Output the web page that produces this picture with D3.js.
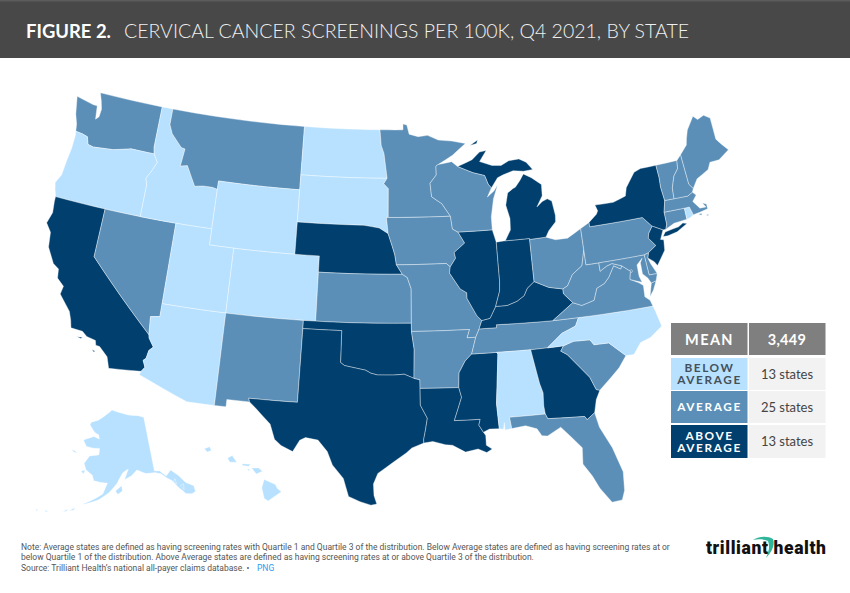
<!DOCTYPE html>
<html><head><meta charset="utf-8">
<script src="https://cdn.jsdelivr.net/npm/d3@7"></script>
<style>html,body{margin:0;padding:0;background:#fff}svg{display:block}</style></head>
<body><svg id="c" width="850" height="593"></svg>
<script>
const titleBold = "FIGURE 2.";
const titleRest = "CERVICAL CANCER SCREENINGS PER 100K, Q4 2021, BY STATE";
const groups = ["BELOW AVERAGE", "AVERAGE", "ABOVE AVERAGE"];
const groupColors = ["#b7e1ff", "#5b8fb8", "#003f6e"];
const groupCounts = ["13 states", "25 states", "13 states"];
const meanValue = "3,449";
const belowStates = ["OR","ID","WY","ND","SD","UT","CO","AZ","AL","NC","AK","HI","RI"];
const averageStates = ["WA","MT","NV","NM","KS","MN","IA","MO","AR","WI","OH","PA","WV","VA","TN","SC","FL","ME","VT","NH","MA","CT","MD","DE","DC"];
const aboveStates = ["CA","NE","IL","IN","KY","MI","NY","NJ","OK","TX","LA","MS","GA"];
const notes = [
 "Note: Average states are defined as having screening rates with Quartile 1 and Quartile 3 of the distribution. Below Average states are defined as having screening rates at or",
 "below Quartile 1 of the distribution. Above Average states are defined as having screening rates at or above Quartile 3 of the distribution.",
 "Source: Trilliant Health’s national all-payer claims database.  •"
];
// State outlines, longitude,latitude
const outlines = {
WA:["-124.7,48.4 -123.1,48.15 -122.75,48.15 -122.6,47.3 -122.35,47.5 -122.3,48 -122.5,48.5 -122.76,49 -117.03,49 -117.04,46.42 -116.92,45.99 -118.98,46 -119.3,45.93 -120.5,45.7 -121.2,45.65 -122.2,45.57 -122.7,45.65 -122.9,46.1 -123.4,46.2 -124,46.25 -124.1,46.7 -124.4,47.3"],
OR:["-124,46.25 -123.4,46.2 -122.9,46.1 -122.7,45.65 -122.2,45.57 -121.2,45.65 -120.5,45.7 -119.3,45.93 -118.98,46 -116.92,45.99 -116.5,45.5 -116.85,44.9 -117.2,44.4 -117.03,44 -117.03,42 -124.21,42 -124.4,42.4 -124.55,42.84 -124.2,43.4 -124.1,44.3 -123.96,45.2 -123.95,46"],
CA:["-124.21,42 -120,42 -120,39 -114.63,35 -114.57,34.8 -114.14,34.3 -114.43,34.05 -114.53,33.55 -114.72,33.4 -114.5,33 -114.72,32.72 -117.12,32.53 -117.25,32.85 -117.4,33.2 -118.1,33.72 -118.4,33.75 -118.5,34.03 -119.2,34.15 -119.6,34.4 -120.5,34.45 -120.65,34.9 -120.9,35.4 -121.9,36.3 -121.8,36.8 -122.4,37.2 -122.5,37.75 -123,38 -123.7,38.9 -123.85,39.8 -124.35,40.3 -124.1,41 -124.2,41.7",
    "-119.9,34 -119.5,34.05 -119.6,33.95","-118.6,33.45 -118.35,33.38 -118.45,33.32"],
NV:["-120,42 -114.04,42 -114.04,36.2 -114.75,36.1 -114.63,35 -120,39"],
ID:["-117.03,49 -116.05,49 -116.05,48 -115.7,47.45 -114.7,46.7 -114.35,46.65 -114.5,45.55 -113.9,45.65 -113.45,45.05 -113,44.45 -112.3,44.55 -111.5,44.55 -111.05,44.48 -111.05,42 -117.03,42 -117.03,44 -117.2,44.4 -116.85,44.9 -116.5,45.5 -116.92,45.99 -117.04,46.42"],
MT:["-116.05,49 -104.05,49 -104.05,45 -111.05,45 -111.05,44.48 -111.5,44.55 -112.3,44.55 -113,44.45 -113.45,45.05 -113.9,45.65 -114.5,45.55 -114.35,46.65 -114.7,46.7 -115.7,47.45 -116.05,48"],
WY:["-111.05,45 -104.05,45 -104.05,41 -111.05,41"],
UT:["-114.04,42 -111.05,42 -111.05,41 -109.05,41 -109.05,37 -114.04,37"],
CO:["-109.05,41 -102.05,41 -102.05,37 -109.05,37"],
AZ:["-114.04,37 -109.05,37 -109.05,31.33 -111.07,31.33 -114.81,32.5 -114.72,32.72 -114.5,33 -114.72,33.4 -114.53,33.55 -114.43,34.05 -114.14,34.3 -114.57,34.8 -114.63,35 -114.75,36.1 -114.04,36.2"],
NM:["-109.05,37 -103,37 -103.04,32 -106.62,32 -106.53,31.78 -108.2,31.78 -108.2,31.33 -109.05,31.33"],
ND:["-104.05,49 -97.23,49 -97.1,48 -96.85,47.5 -96.56,45.94 -104.05,45.94"],
SD:["-104.05,45.94 -96.56,45.94 -96.85,45.6 -96.45,45.3 -96.45,43.5 -96.6,43.5 -96.45,42.5 -97.2,42.85 -98.5,43 -104.05,43"],
NE:["-104.05,43 -98.5,43 -97.2,42.85 -96.45,42.5 -96.1,41.7 -95.9,41.2 -95.77,40.58 -95.3,40 -102.05,40 -102.05,41 -104.05,41"],
KS:["-102.05,40 -95.3,40 -94.9,39.8 -94.6,39.1 -94.62,37 -102.05,37"],
OK:["-103,37 -94.62,37 -94.62,36.5 -94.43,35.4 -94.48,33.64 -95.2,33.9 -96,33.85 -96.6,33.85 -97.2,33.85 -97.7,33.95 -98.1,34.13 -99.2,34.3 -99.7,34.38 -100,34.56 -100,36.5 -103,36.5"],
TX:["-103,36.5 -100,36.5 -100,34.56 -99.7,34.38 -99.2,34.3 -98.1,34.13 -97.7,33.95 -97.2,33.85 -96.6,33.85 -96,33.85 -95.2,33.9 -94.48,33.64 -94.04,33.55 -94.04,33.02 -94.04,32 -93.55,31.2 -93.7,30.5 -93.85,29.9 -93.84,29.69 -94.7,29.4 -95.1,29.1 -96,28.55 -97.1,27.85 -97.4,27.2 -97.35,26.5 -97.15,25.97 -97.55,25.9 -98.3,26.1 -99.1,26.4 -99.5,27.5 -100.3,28.3 -100.7,29.1 -101.4,29.77 -102.3,29.88 -102.7,29.7 -103.15,28.98 -104,29.3 -104.5,29.65 -104.9,30.55 -106,31.4 -106.53,31.78 -106.62,32 -103.04,32"],
MN:["-97.23,49 -95.15,49 -95.15,49.38 -94.8,49.3 -94.6,48.72 -93.8,48.55 -92.95,48.62 -92,48.3 -90.8,48.2 -89.6,48 -90.8,47.3 -92.1,46.75 -92.29,46.66 -92.29,46.1 -92.85,45.6 -92.75,44.75 -91.9,44.3 -91.22,43.5 -96.45,43.5 -96.45,45.3 -96.85,45.6 -96.56,45.94 -96.85,47.5 -97.1,48"],
IA:["-96.45,43.5 -91.22,43.5 -91.1,42.7 -90.65,42.5 -90.15,41.8 -91.05,41.25 -90.95,40.9 -91.42,40.38 -91.73,40.6 -95.77,40.58 -95.9,41.2 -96.1,41.7 -96.45,42.5 -96.6,43.5"],
MO:["-95.77,40.58 -91.73,40.6 -91.42,40.38 -91.5,40 -90.7,39 -90.2,38.75 -90.2,38.4 -89.5,37.3 -89.15,37 -89.4,36.5 -89.7,36 -90.37,36 -90.15,36.5 -94.62,36.5 -94.62,37 -94.6,39.1 -94.9,39.8 -95.3,40"],
AR:["-94.62,36.5 -90.15,36.5 -90.37,36 -89.7,36 -90.08,35 -90.6,34.6 -91.1,33.9 -91.17,33 -94.04,33.02 -94.04,33.55 -94.48,33.64 -94.43,35.4"],
LA:["-94.04,33.02 -91.17,33 -91,32.4 -91.6,31 -89.73,31 -89.85,30.65 -89.55,30.2 -89.4,30 -89.4,29.4 -89,29.15 -89.4,28.95 -90,29.2 -90.9,29.05 -91.8,29.5 -92.3,29.55 -93.2,29.77 -93.84,29.69 -93.85,29.9 -93.7,30.5 -93.55,31.2 -94.04,32"],
MS:["-91.17,33 -91.1,33.9 -90.6,34.6 -90.08,35 -88.2,35 -88.1,34.9 -88.47,31.9 -88.4,30.35 -89.1,30.37 -89.55,30.2 -89.85,30.65 -89.73,31 -91.6,31 -91,32.4"],
TN:["-90.08,35 -89.7,36 -89.4,36.5 -88.05,36.5 -88.05,36.68 -83.68,36.6 -81.68,36.59 -82,36.1 -83.1,35.77 -84.32,34.99 -85.6,34.98 -88.2,35"],
KY:["-89.4,36.5 -89.15,37 -88.5,37.1 -88,37.8 -87.1,37.8 -86.3,38 -85.7,38.3 -85.4,38.73 -84.8,39.1 -84.3,38.9 -83.7,38.65 -82.6,38.45 -82.6,38.15 -81.97,37.54 -83.68,36.6 -88.05,36.68 -88.05,36.5"],
IL:["-90.65,42.5 -87.8,42.5 -87.55,41.72 -87.53,39.35 -87.6,38.7 -88,37.8 -88.5,37.1 -89.15,37 -89.5,37.3 -90.2,38.4 -90.2,38.75 -90.7,39 -91.5,40 -91.42,40.38 -90.95,40.9 -91.05,41.25 -90.15,41.8"],
IN:["-87.55,41.72 -87.2,41.75 -86.8,41.76 -84.8,41.76 -84.8,39.1 -85.4,38.73 -85.7,38.3 -86.3,38 -87.1,37.8 -88,37.8 -87.6,38.7 -87.53,39.35"],
OH:["-84.8,41.7 -83.45,41.73 -82.7,41.5 -81.7,41.5 -80.52,41.97 -80.52,40.64 -80.85,39.7 -81.7,39.25 -82.2,38.6 -82.6,38.45 -83.7,38.65 -84.3,38.9 -84.8,39.1"],
MI:["-86.8,41.76 -84.8,41.76 -84.8,41.7 -83.45,41.73 -83.15,42.1 -82.5,42.6 -82.45,43 -82.6,43.9 -82.95,44.07 -83.4,43.95 -83.9,43.65 -83.35,44.3 -83.3,45 -84.1,45.5 -84.75,45.78 -85.1,45.4 -85.55,45 -85.75,44.95 -86.25,44.7 -86.5,43.95 -86.25,43.1 -86.3,42.4",
    "-90.4,46.57 -89.1,46.95 -88.4,47.4 -87.8,47.47 -88.45,46.8 -87.4,46.5 -86.6,46.45 -85.9,46.7 -85,46.75 -84.4,46.5 -84.1,46.2 -83.9,46 -84.7,45.95 -85.6,46.05 -86.5,45.85 -87,45.7 -87.6,45.1 -87.85,45.35 -88.1,45.9 -89.1,46.13",
    "-89.2,47.85 -88.5,48.17 -88.6,47.95"],
WI:["-92.29,46.66 -92.1,46.75 -90.9,46.9 -90.4,46.57 -89.1,46.13 -88.1,45.9 -87.85,45.35 -87.6,45.1 -88,44.55 -87.4,44.9 -87.05,45.25 -87.5,44.4 -87.8,43.3 -87.8,42.5 -90.65,42.5 -91.1,42.7 -91.22,43.5 -91.9,44.3 -92.75,44.75 -92.85,45.6 -92.29,46.1"],
AL:["-88.2,35 -85.6,34.98 -85.18,32.87 -85,32.3 -85.05,31.5 -85,31 -87.6,31 -87.5,30.3 -88,30.25 -88,30.7 -88.1,30.3 -88.4,30.35 -88.47,31.9 -88.1,34.9"],
GA:["-85.6,34.98 -84.32,34.99 -83.1,35 -83.35,34.7 -82.9,34.45 -82,33.5 -81.45,32.9 -81.1,32.1 -80.85,32.03 -81.2,31.5 -81.45,30.72 -82.05,30.36 -82.2,30.57 -84.86,30.7 -85,31 -85.05,31.5 -85,32.3 -85.18,32.87"],
FL:["-87.6,31 -85,31 -84.86,30.7 -82.2,30.57 -82.05,30.36 -81.45,30.72 -81.25,29.8 -80.55,28.45 -80.05,26.9 -80.15,25.75 -80.4,25.2 -81.1,25.15 -81.8,26.1 -82.2,26.9 -82.75,27.7 -82.65,28.7 -83.4,29.5 -84,30.1 -85,29.65 -85.4,29.7 -85.7,30.15 -86.5,30.4 -87.5,30.3"],
SC:["-83.35,34.7 -83.1,35 -82.3,35.2 -81.05,35.15 -80.8,34.82 -79.67,34.8 -78.55,33.87 -79.2,33.2 -79.9,32.7 -80.85,32.03 -81.1,32.1 -81.45,32.9 -82,33.5 -82.9,34.45"],
NC:["-84.32,34.99 -83.1,35 -82.3,35.2 -81.05,35.15 -80.8,34.82 -79.67,34.8 -78.55,33.87 -77.95,33.85 -77.3,34.5 -76.5,34.7 -75.5,35.25 -75.75,36.2 -75.87,36.55 -81.68,36.59 -82,36.1 -83.1,35.77"],
VA:["-83.68,36.6 -81.97,37.54 -81.3,37.3 -80.3,37.5 -79.95,38.2 -79.3,38.42 -78.87,38.76 -78.35,39.4 -77.83,39.13 -77.72,39.32 -77.1,38.9 -77.25,38.4 -76.6,38.1 -76.3,37.9 -76.35,37.2 -76,36.93 -75.87,36.55 -81.68,36.59",
    "-75.95,37.15 -75.65,37.95 -75.25,38.03 -75.6,37.5"],
WV:["-80.52,40.64 -80.52,39.72 -79.48,39.72 -79.48,39.2 -78.9,39.45 -78.45,39.55 -77.72,39.32 -77.83,39.13 -78.35,39.4 -78.87,38.76 -79.3,38.42 -79.95,38.2 -80.3,37.5 -81.3,37.3 -81.97,37.54 -82.6,38.15 -82.6,38.45 -82.2,38.6 -81.7,39.25 -80.85,39.7"],
PA:["-80.52,41.97 -79.76,42.27 -79.76,42 -75.35,42 -74.7,41.36 -75.1,40.95 -75.2,40.68 -74.72,40.15 -75.42,39.8 -75.79,39.72 -80.52,39.72"],
NY:["-79.76,42.27 -79.05,42.7 -78.9,42.9 -79.05,43.27 -77.5,43.25 -76.4,43.5 -76.2,44 -75.3,44.85 -74.7,45 -73.35,45 -73.3,44.2 -73.35,43.6 -73.25,42.75 -73.5,42.05 -73.5,41.3 -73.65,41 -73.9,41 -74.7,41.36 -75.35,42 -79.76,42",
    "-74,40.6 -73.75,40.85 -72.6,40.98 -72.2,41.15 -71.87,41.07 -72.8,40.7 -73.6,40.58"],
NJ:["-74.7,41.36 -73.9,41 -74.25,40.45 -74,40.4 -74.1,39.75 -74.9,38.93 -75.1,39.2 -75.55,39.5 -75.42,39.8 -74.72,40.15 -75.2,40.68 -75.1,40.95"],
DE:["-75.79,39.72 -75.42,39.8 -75.55,39.5 -75.4,39.1 -75.05,38.45 -75.7,38.46"],
MD:["-79.48,39.72 -75.79,39.72 -75.7,38.46 -75.05,38.45 -75.25,38.03 -75.65,37.95 -75.85,38.3 -76.2,38.6 -76.2,39.3 -76,39.55 -76.5,39.2 -76.5,38.5 -76.35,38.1 -76.95,38.3 -77.25,38.4 -77.1,38.9 -77.72,39.32 -78.45,39.55 -78.9,39.45 -79.48,39.2"],
DC:["-77.12,38.93 -77.04,39 -76.91,38.89 -77.04,38.79"],
CT:["-73.5,42.05 -71.8,42.02 -71.8,41.32 -72.9,41.25 -73.65,41 -73.5,41.3"],
RI:["-71.8,42.02 -71.38,42.02 -71.2,41.5 -71.5,41.37 -71.8,41.32"],
MA:["-73.5,42.05 -73.25,42.75 -71.3,42.7 -70.85,42.87 -70.6,42.65 -71,42.3 -70.55,41.8 -70.05,41.78 -70.25,42.07 -69.95,41.95 -69.95,41.65 -70.65,41.55 -71.2,41.5 -71.38,42.02 -71.8,42.02",
    "-70.8,41.45 -70.5,41.47 -70.55,41.35","-70.2,41.3 -69.97,41.3 -70.05,41.23"],
VT:["-73.35,45 -71.5,45.01 -71.6,44.5 -72.05,44.1 -72.4,43.4 -72.46,42.73 -73.25,42.75 -73.35,43.6 -73.3,44.2"],
NH:["-71.5,45.01 -71.08,45.3 -70.98,43.4 -70.7,43.08 -70.85,42.87 -71.3,42.7 -72.46,42.73 -72.4,43.4 -72.05,44.1 -71.6,44.5"],
ME:["-71.08,45.3 -70.4,45.8 -70.25,46.2 -70,46.7 -69.23,47.46 -68.9,47.18 -68.3,47.35 -67.8,47.07 -67.8,45.7 -67.45,45.3 -67,44.85 -68,44.4 -68.8,44.4 -69.1,44 -70.2,43.6 -70.7,43.08 -70.98,43.4"],
AK:["-141,69.65 -143.5,70.1 -148,70.4 -152,70.85 -156.6,71.35 -160,70.3 -163,69.4 -166.2,68.85 -166.5,68.35 -163.8,67.2 -162,66.9 -161.5,66.2 -164,66.5 -168,65.6 -166.3,64.6 -163.2,64.5 -161,64.6 -161,63.5 -164.5,63.1 -166,61.7 -165,60.7 -162.5,59.9 -161.8,59 -158.5,58.8 -157.2,58.8 -158.5,56.9 -161,55.9 -164.5,54.7 -163,55 -159.5,55.9 -156.5,57.2 -154,58.8 -153.2,59.6 -152,60.6 -150,61.2 -151.5,59.4 -149,60 -147,60.9 -144,60.1 -141,60 -139,59.6 -137.5,58.7 -136,58 -134.5,56.5 -133,55.2 -131.3,54.8 -130.1,55 -130,56 -132,57 -133.5,58.5 -135.5,59.8 -137.5,59 -139.2,60.1 -141,60.3",
    "-154.5,57.5 -152.5,58.4 -152.3,57.5 -153.8,56.9","-167.7,53.3 -166.2,54 -166.6,53.5","-169.5,52.9 -168.2,53.5 -168.5,53.1","-166.5,60.3 -165.2,60.6 -165.6,59.9","-171.8,63.6 -169,63.3 -170.5,63.2","-135.8,57.7 -134.9,58.2 -134.9,57.2","-133.9,56.8 -132.8,56.9 -133.2,55.9",
    "-174.5,52.3 -173.5,52.3 -174,52.05","-177,51.95 -176.2,51.95 -176.6,51.75"],
HI:["-155.9,20.25 -155.2,19.95 -155.05,19.7 -154.8,19.5 -155.65,18.95 -155.9,19.1 -156.05,19.75","-156.7,20.95 -156.25,20.95 -156,20.75 -156.4,20.58","-158.25,21.55 -157.95,21.7 -157.65,21.3 -158.1,21.3","-159.75,22.1 -159.4,22.23 -159.3,22 -159.55,21.9","-157.3,21.2 -156.75,21.17 -156.9,21.05 -157.3,21.1","-156.98,20.85 -156.85,20.9 -156.85,20.75"]
};

const svg = d3.select("#c");
const color = d3.scaleOrdinal().domain(groups).range(groupColors);
const groupOf = new Map();
belowStates.forEach(s => groupOf.set(s, groups[0]));
averageStates.forEach(s => groupOf.set(s, groups[1]));
aboveStates.forEach(s => groupOf.set(s, groups[2]));

// Header
svg.append("rect").attr("width",850).attr("height",58).attr("fill","#484848");
svg.append("rect").attr("width",850).attr("height",1.5).attr("fill","#5c5c5c");
svg.append("text").attr("x",26).attr("y",37.5).attr("fill","#fff")
  .attr("font-family","Lato").attr("font-weight",700).attr("font-size",19.5).attr("textLength",85).attr("lengthAdjust","spacingAndGlyphs").text(titleBold);
svg.append("text").attr("x",124).attr("y",37.5).attr("fill","#f0f0f0")
  .attr("font-family","Lato").attr("font-weight",300).attr("font-size",19.5).attr("textLength",565).text(titleRest);

// Map
const lower48 = d3.geoAlbers().parallels([25,41]).scale(932).translate([386,295.5]);
const alaska = d3.geoConicEqualArea().rotate([154,0]).center([-2,58.5]).parallels([55,65]).scale(335).translate([111,485]);
const hawaii = d3.geoConicEqualArea().rotate([157,0]).center([-3,19.9]).parallels([8,18]).scale(950).translate([200,485]);
const projFor = id => id==="AK" ? alaska : id==="HI" ? hawaii : lower48;

function densify(ring){
  const out=[];
  ring.forEach((p,i)=>{
    const q=ring[(i+1)%ring.length];
    const n=Math.max(1,Math.ceil(Math.max(Math.abs(q[0]-p[0]),Math.abs(q[1]-p[1]))));
    for(let k=0;k<n;k++) out.push([p[0]+(q[0]-p[0])*k/n,p[1]+(q[1]-p[1])*k/n]);
  });
  out.push(out[0].slice());
  return out;
}
function toGeometry(rings){
  return {type:"MultiPolygon",coordinates:rings.map(r=>{
    let ring=densify(r.split(" ").map(s=>s.split(",").map(Number)));
    if(d3.geoArea({type:"Polygon",coordinates:[ring]})>2*Math.PI) ring=ring.reverse();
    return [ring];
  })};
}
const features = Object.keys(outlines).map(id=>({id,geometry:toGeometry(outlines[id]),type:"Feature",properties:{}}));
svg.append("g").selectAll("path").data(features).join("path")
  .attr("d",d=>d3.geoPath(projFor(d.id))(d))
  .attr("fill",d=>color(groupOf.get(d.id)))
  .attr("stroke","#ffffff").attr("stroke-opacity",0.55).attr("stroke-width",0.7).attr("stroke-linejoin","round");

// Legend table
const rowY = d3.scaleOrdinal().domain(groups).range([358,391,425]);
const rowH = d3.scaleOrdinal().domain(groups).range([32,32,33]);
const t = svg.append("g");
t.append("rect").attr("x",671).attr("y",323).attr("width",76.5).attr("height",32).attr("fill","#7f7f7f");
t.append("rect").attr("x",749).attr("y",323).attr("width",76.5).attr("height",32).attr("fill","#7f7f7f");
const hdr = (x,s,sp)=>t.append("text").attr("x",x).attr("y",345).attr("text-anchor","middle").attr("fill","#fff")
  .attr("font-family","Lato").attr("font-weight",700).attr("font-size",14.5).attr("letter-spacing",sp).text(s);
hdr(709.5,"MEAN",1.4); hdr(787,meanValue,0.3);
const rows = t.selectAll("g").data(groups).join("g");
rows.append("rect").attr("x",671).attr("y",d=>rowY(d)).attr("width",76.5).attr("height",d=>rowH(d)).attr("fill",d=>color(d));
rows.append("rect").attr("x",749).attr("y",d=>rowY(d)).attr("width",76.5).attr("height",d=>rowH(d)).attr("fill","#f2f2f2");
rows.each(function(d,i){
  const g=d3.select(this), words=d==="AVERAGE"?[d]:d.split(" ");
  const mid=rowY(d)+rowH(d)/2;
  const label=g.append("text").attr("text-anchor","middle").attr("font-family","Lato").attr("font-weight",700).attr("font-size",11.8)
    .attr("letter-spacing",1.6).attr("fill",i===0?"#44505a":"#fff");
  words.forEach((w,j)=>label.append("tspan").attr("x",709.5)
    .attr("y",mid+4.2+(j-(words.length-1)/2)*12.4).text(w));
  g.append("text").attr("x",787).attr("y",mid+4.5).attr("text-anchor","middle")
    .attr("font-family","Lato").attr("font-size",13).attr("fill","#444").text(groupCounts[i]);
});

// Footer
notes.forEach((n,i)=>{
  svg.append("text").attr("x",21).attr("y",549.5+i*10.7).attr("font-family","Roboto").attr("font-size",8.5).attr("fill","#555").text(n);
});
svg.append("text").attr("x",257).attr("y",549.5+2*10.7).attr("font-family","Roboto").attr("font-size",8.5).attr("fill","#2f9bf0").text("PNG");

// Logo
const logo=svg.append("g");
logo.append("path").attr("d","M753,540 C760,536 768,536 773,539 C775,545 772,552 766,558 C769,551 770,546 768,541 C763,539 758,539 753,540Z").attr("fill","#2fb59a");
logo.append("text").attr("x",706).attr("y",554).attr("font-family","Roboto").attr("font-weight",900).attr("font-size",17.5).attr("fill","#111").attr("textLength",120).text("trilliant health");
</script></body></html>
